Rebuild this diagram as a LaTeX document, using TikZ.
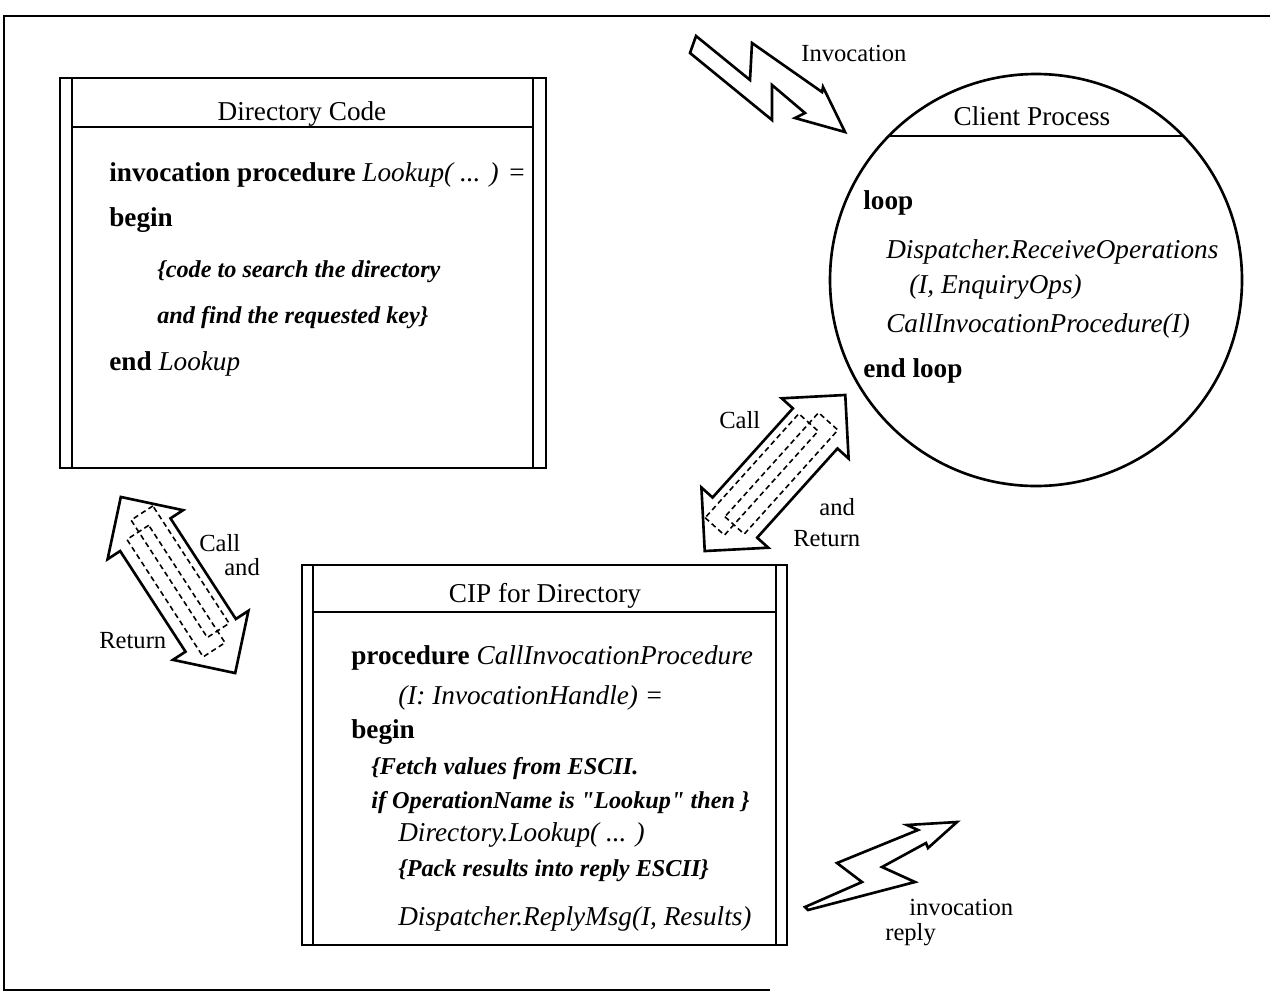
\documentclass[tikz,border=0pt]{standalone}
\usepackage{fontspec}
\setmainfont{Liberation Serif}
\begin{document}
\begin{tikzpicture}[x=0.02cm, y=-0.02cm, line width=1.5pt, line join=miter,
    code/.style={anchor=base west, inner sep=0pt, font=\fontsize{15.5}{18}\selectfont},
    note/.style={anchor=base west, inner sep=0pt, font=\fontsize{13.8}{16}\selectfont\bfseries\itshape},
    head/.style={anchor=base, inner sep=0pt, font=\fontsize{15.5}{18}\selectfont},
    tag/.style={anchor=base west, inner sep=0pt, font=\fontsize{14}{16}\selectfont},
    msg/.style={line width=0.9pt, dash pattern=on 3pt off 2pt}]
  \useasboundingbox (0,0) rectangle (1270,998);
  \draw (1270,16) -- (4,16) -- (4,990) -- (770,990);

  \draw (60,78) rectangle (546,468);
  \draw (72,78) -- (72,468) (533,78) -- (533,468) (72,127) -- (533,127);
  \node[head] (dirtitle) at (302,120) {Directory Code};
  \node[code] (dirproc) at (108,181) {\textbf{invocation procedure} \textit{Lookup( ... ) =}};
  \node[code] (dirbegin) at (108,226) {\textbf{begin}};
  \node[note] (dirnote1) at (156,277) {\{code to search the directory};
  \node[note] (dirnote2) at (156,323) {and find the requested key\}};
  \node[code] (dirend) at (108,370) {\textbf{end} \textit{Lookup}};

  \draw (1036,280) circle[radius=206];
  \draw (889,136) -- (1183,136);
  \node[head] (clienttitle) at (1032,125) {Client Process};
  \node[code] (clientloop) at (862,209) {\textbf{loop}};
  \node[code] (clientrecv) at (885,258) {\textit{Dispatcher.ReceiveOperations}};
  \node[code] (clientargs) at (908,293) {\textit{(I, EnquiryOps)}};
  \node[code] (clientcall) at (885,332) {\textit{CallInvocationProcedure(I)}};
  \node[code] (clientend) at (862,377) {\textbf{end loop}};

  \draw (302,565) rectangle (787,945);
  \draw (313,565) -- (313,945) (776,565) -- (776,945) (313,612) -- (776,612);
  \node[head] (ciptitle) at (545,602) {CIP for Directory};
  \node[code] (cipproc) at (350,664) {\textbf{procedure} \textit{CallInvocationProcedure}};
  \node[code] (cipargs) at (397,704) {\textit{(I: InvocationHandle) =}};
  \node[code] (cipbegin) at (350,738) {\textbf{begin}};
  \node[note] (cipnote1) at (370,774) {\{Fetch values from ESCII.};
  \node[note] (cipnote2) at (370,808) {if OperationName is \textquotedbl Lookup\textquotedbl{} then \}};
  \node[code] (cipcall) at (397,841) {\textit{Directory.Lookup( ... )}};
  \node[note] (cipnote3) at (397,876) {\{Pack results into reply ESCII\}};
  \node[code] (cipreply) at (397,925) {\textit{Dispatcher.ReplyMsg(I, Results)}};

  \foreach \cx/\cy/\ang in {775/473/48, 178/585/-57} {
    \begin{scope}[shift={(\cx,\cy)}, rotate=\ang]
      \draw (105,0) -- (60,-45) -- (60,-30) -- (-60,-30) -- (-60,-45) -- (-105,0)
        -- (-60,45) -- (-60,30) -- (60,30) -- (60,45) -- cycle;
      \draw[msg] (-80,-22) rectangle (60,4);
      \draw[msg] (-66,-8) rectangle (74,18);
    \end{scope}
  }
  \node[tag] (rcall) at (718,428) {Call};
  \node[tag] (rand) at (818,515) {and};
  \node[tag] (rreturn) at (792,546) {Return};
  \node[tag] (lcall) at (198,551) {Call};
  \node[tag] (land) at (223,575) {and};
  \node[tag] (lreturn) at (98,648) {Return};

  \draw (696,36) -- (750,80) -- (752,43) -- (822,92) -- (823,87) -- (845,132) -- (795,118)
    -- (805,113) -- (772,85) -- (772,120) -- (690,53) -- cycle;
  \node[tag] (invtag) at (800,61) {Invocation};

  \draw (805,907) -- (862,882) -- (837,863) -- (918,830) -- (907,825) -- (957,822) -- (928,848)
    -- (926,843) -- (882,867) -- (915,882) -- (808,910) -- cycle;
  \node[tag] (replytag1) at (908,915) {invocation};
  \node[tag] (replytag2) at (884,940) {reply};
\end{tikzpicture}
\end{document}
